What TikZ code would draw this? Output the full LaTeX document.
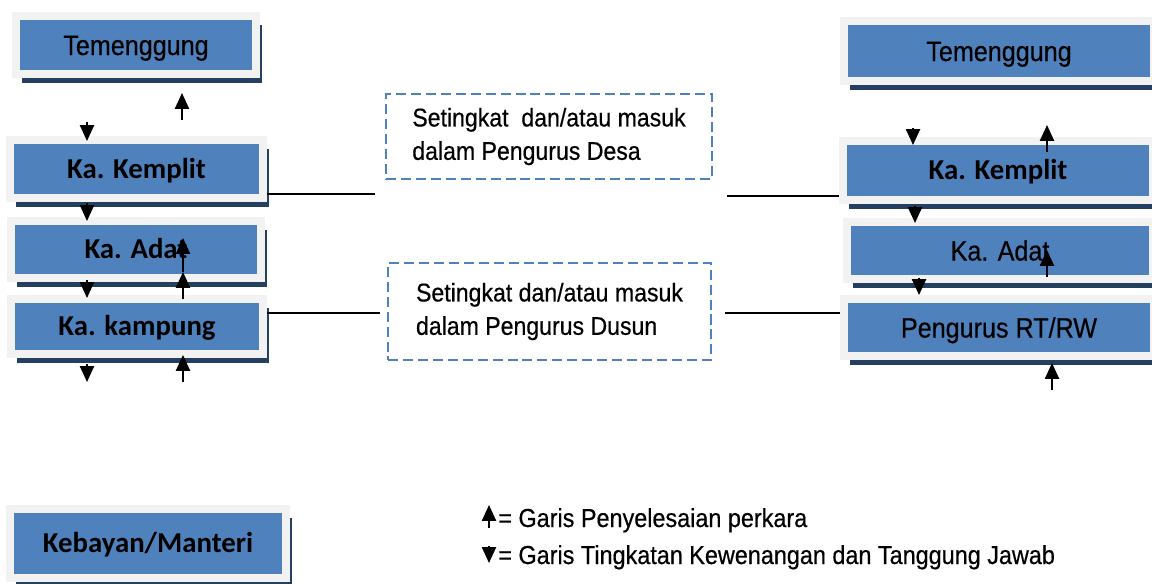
\documentclass[tikz,border=0pt]{standalone}
\usepackage{fontspec}
\setmainfont{Liberation Sans}
\newfontfamily\narrowfont{Liberation Sans}[FakeStretch=0.9, FakeBold=0.5]
\newfontfamily\calibrifont{Carlito}
\usepackage{xcolor}
\usetikzlibrary{arrows.meta,shadows}
\definecolor{boxblue}{HTML}{4F81BD}
\definecolor{framegray}{HTML}{F2F2F2}
\definecolor{shadownavy}{HTML}{243F60}
\tikzset{
  orgbox/.style={rectangle, draw=framegray, line width=0.16cm, fill=boxblue, inner sep=0pt, align=center, drop shadow={shadow xshift=0.12cm, shadow yshift=-0.18cm, fill=shadownavy, opacity=1}},
  plainbox/.style={orgbox, font=\narrowfont\fontsize{15.9}{18}\selectfont, text height=11.4pt, text depth=0pt},
  boldbox/.style={orgbox, font=\calibrifont\bfseries\fontsize{16.4}{20}\selectfont, text height=10.6pt, text depth=0pt},
  notebox/.style={rectangle, draw=boxblue, line width=1.1pt, dash pattern=on 5.7pt off 2.8pt, align=left, inner sep=0pt, font=\narrowfont\fontsize{14.6}{19}\selectfont},
  legendtext/.style={inner sep=0pt, font=\narrowfont\fontsize{14.8}{16}\selectfont},
  uparrow/.style={-{Triangle[length=9pt,width=8pt]}, line width=1pt},
  downarrow/.style={-{Triangle[length=9pt,width=8pt]}, line width=1pt},
  link/.style={line width=0.8pt}
}

\begin{document}
\begin{tikzpicture}[x=0.02cm, y=-0.02cm]
\clip (0,0) rectangle (1152,584);

% left column
\node[plainbox, minimum width=4.8cm, minimum height=1.18cm] (temL) at (136,45) {Temenggung};
\node[boldbox, minimum width=5.06cm, minimum height=1.17cm] (kemL) at (136.5,169) {Ka. Kemplit};
\node[boldbox, minimum width=5.0cm, minimum height=1.16cm] (adatL) at (136,249.5) {Ka. Adat};
\node[boldbox, minimum width=5.04cm, minimum height=1.12cm] (kampL) at (137,326.5) {Ka. kampung};

% right column
\node[plainbox, minimum width=6.2cm, minimum height=1.2cm] (temR) at (999,51) {Temenggung};
\node[boldbox, minimum width=6.2cm, minimum height=1.18cm] (kemR) at (998,170.5) {Ka. Kemplit};
\node[plainbox, minimum width=6.14cm, minimum height=1.14cm] (adatR) at (1000,250.5) {Ka. Adat};
\node[plainbox, minimum width=6.2cm, minimum height=1.14cm] (rtR) at (999,327.5) {Pengurus RT/RW};

\node[boldbox, minimum width=5.52cm, minimum height=1.38cm] (keb) at (148,543.5) {Kebayan/Manteri};

% middle notes
\node[notebox, minimum width=6.52cm, minimum height=1.7cm] (desa) at (549,136.5) {Setingkat\ \ dan/atau masuk\\dalam Pengurus Desa};
\node[notebox, minimum width=6.46cm, minimum height=1.94cm] (dusun) at (549.5,311.5) {Setingkat dan/atau masuk\\dalam Pengurus Dusun};

\coordinate (desaL) at (375,194);
\coordinate (desaR) at (727,196);
\coordinate (dusunL) at (380,313);
\coordinate (dusunR) at (725,313);
\draw[link] (kemL.east |- desaL) -- (desaL);
\draw[link] (desaR) -- (kemR.west |- desaR);
\draw[link] (kampL.east |- dusunL) -- (dusunL);
\draw[link] (dusunR) -- (rtR.west |- dusunR);

% arrow ends
\coordinate (dn1) at (87,122);   \coordinate (dn1t) at (87,141);
\coordinate (dn2) at (87,203);   \coordinate (dn2t) at (87,221);
\coordinate (dn3) at (87,280);   \coordinate (dn3t) at (87,298);
\coordinate (dn4) at (87,364);   \coordinate (dn4t) at (87,382);
\coordinate (dn5) at (913,128);  \coordinate (dn5t) at (913,145);
\coordinate (dn6) at (915,206);  \coordinate (dn6t) at (915,223);
\coordinate (dn7) at (919,278);  \coordinate (dn7t) at (919,295);
\coordinate (dn8) at (489,546);  \coordinate (dn8t) at (489,563);
\coordinate (up1) at (182,120);  \coordinate (up1t) at (182,93);
\coordinate (up2) at (183,299);  \coordinate (up2t) at (183,272);
\coordinate (up3) at (183,272);  \coordinate (up3t) at (183,238);
\coordinate (up4) at (183,382);  \coordinate (up4t) at (183,355);
\coordinate (up5) at (1047,152); \coordinate (up5t) at (1047,125);
\coordinate (up6) at (1047,277); \coordinate (up6t) at (1047,250);
\coordinate (up7) at (1052,390); \coordinate (up7t) at (1052,363);
\coordinate (up8) at (489,528);  \coordinate (up8t) at (489,505);
\foreach \i in {1,...,8}{
  \draw[downarrow] (dn\i) -- (dn\i t);
  \draw[uparrow] (up\i) -- (up\i t);
}

% legend
\node[legendtext, anchor=base west] (leg1) at (498,527) {= Garis Penyelesaian perkara};
\node[legendtext, anchor=base west] (leg2) at (498,564) {= Garis Tingkatan Kewenangan dan Tanggung Jawab};
\end{tikzpicture}
\end{document}
